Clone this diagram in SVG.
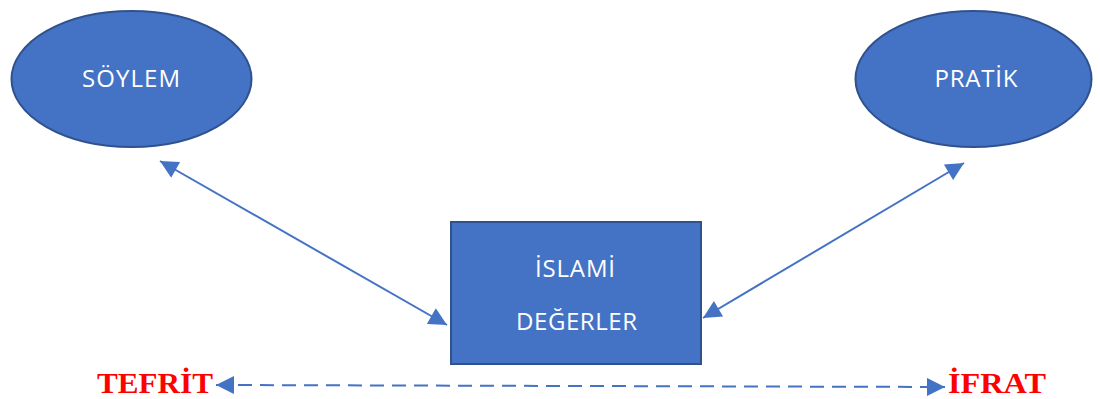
<svg xmlns="http://www.w3.org/2000/svg" width="1100" height="399" viewBox="0 0 1100 399">
<defs>
<style>
.node{fill:#4472C4;stroke:#2F528F;stroke-width:2}
.lbl{font-family:"Open Sans","Noto Sans",sans-serif;font-size:24px;fill:#FFFFFF;text-anchor:middle}
.edge{stroke:#4472C4;stroke-width:2;fill:none}
.dash{stroke-dasharray:14 8}
.side{font-family:"Liberation Serif","Times New Roman",serif;font-weight:bold;font-size:30px;fill:#FF0000}
</style>
<marker id="ah" viewBox="0 0 10 10" refX="10" refY="5" markerWidth="10" markerHeight="9" orient="auto-start-reverse" markerUnits="strokeWidth">
<path d="M0,0 L10,5 L0,10 z" fill="#4472C4"/>
</marker>
</defs>
<g id="soylem">
<ellipse class="node" cx="131.5" cy="79" rx="120" ry="68"/>
<text class="lbl" x="131" y="87" textLength="98" lengthAdjust="spacing">SÖYLEM</text>
</g>
<g id="pratik">
<ellipse class="node" cx="973.5" cy="79" rx="118" ry="68"/>
<text class="lbl" x="976" y="87" textLength="83" lengthAdjust="spacing">PRATİK</text>
</g>
<g id="islami-degerler">
<rect class="node" x="451" y="222" width="250" height="142"/>
<text class="lbl" x="575" y="277" textLength="80" lengthAdjust="spacing">İSLAMİ</text>
<text class="lbl" x="576.5" y="330" textLength="121" lengthAdjust="spacing">DEĞERLER</text>
</g>
<g id="tefrit">
<text class="side" x="97" y="393" textLength="116" lengthAdjust="spacingAndGlyphs">TEFRİT</text>
</g>
<g id="ifrat">
<text class="side" x="948" y="393" textLength="98" lengthAdjust="spacingAndGlyphs">İFRAT</text>
</g>
<g id="connectors">
<line class="edge" x1="160" y1="161" x2="447" y2="325" marker-start="url(#ah)" marker-end="url(#ah)"/>
<line class="edge" x1="964" y1="163" x2="703" y2="318" marker-start="url(#ah)" marker-end="url(#ah)"/>
<line class="edge dash" x1="216" y1="385" x2="945" y2="387" marker-start="url(#ah)" marker-end="url(#ah)"/>
</g>
</svg>
